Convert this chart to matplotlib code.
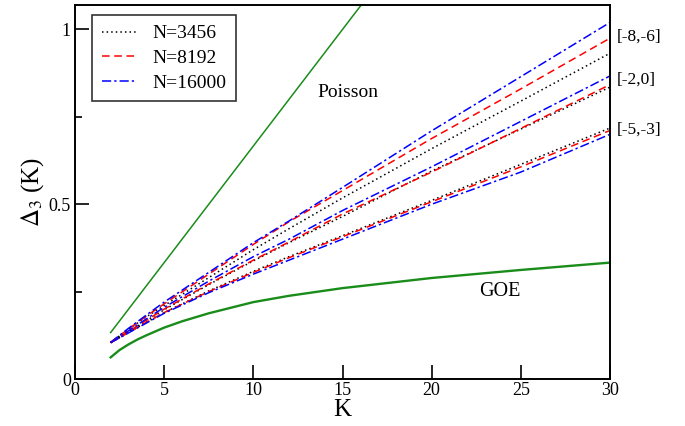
import numpy as np
import matplotlib
matplotlib.use("Agg")
import matplotlib.pyplot as plt
from matplotlib.ticker import MultipleLocator

plt.rcParams['font.family'] = ['Liberation Serif', 'DejaVu Serif']
plt.rcParams['mathtext.fontset'] = 'stix'

# values
K = [2, 3, 4, 5, 7.5, 10, 12, 15, 20, 25, 30]

# window [-8,-6]
w86_3456 = [0.105, 0.142, 0.178, 0.210, 0.290, 0.370, 0.430, 0.518, 0.659, 0.795, 0.932]
w86_8192 = [0.105, 0.143, 0.180, 0.215, 0.300, 0.385, 0.450, 0.539, 0.688, 0.830, 0.975]
w86_16000 = [0.105, 0.145, 0.183, 0.220, 0.305, 0.390, 0.452, 0.548, 0.710, 0.865, 1.020]

# window [-2,0]
w20_3456 = [0.104, 0.135, 0.167, 0.198, 0.270, 0.338, 0.390, 0.465, 0.595, 0.715, 0.835]
w20_8192 = [0.104, 0.136, 0.168, 0.200, 0.272, 0.340, 0.392, 0.472, 0.592, 0.717, 0.842]
w20_16000 = [0.104, 0.138, 0.172, 0.205, 0.280, 0.350, 0.400, 0.482, 0.607, 0.737, 0.867]

# window [-5,-3]
w53_3456 = [0.104, 0.133, 0.162, 0.190, 0.252, 0.308, 0.350, 0.410, 0.511, 0.614, 0.718]
w53_8192 = [0.104, 0.133, 0.162, 0.190, 0.250, 0.305, 0.347, 0.407, 0.507, 0.607, 0.711]
w53_16000 = [0.104, 0.132, 0.160, 0.188, 0.247, 0.300, 0.340, 0.400, 0.500, 0.592, 0.700]

K_goe = [2, 2.5, 3, 3.5, 4, 5, 6, 7.5, 10, 12, 15, 20, 25, 30]
goe = [0.062, 0.083, 0.099, 0.113, 0.125, 0.147, 0.165, 0.188, 0.220, 0.238, 0.260, 0.289, 0.312, 0.333]
K_poisson = [2, 16.5]
poisson = [0.133, 1.100]

window_labels = ['[-8,-6]', '[-2,0]', '[-5,-3]']
window_label_y = [0.98, 0.857, 0.714]

green = '#1a8c1a'
st_3456 = dict(color='black', linestyle=(0, (1, 2)), linewidth=1.1)
st_8192 = dict(color='red', linestyle=(0, (5, 3)), linewidth=1.1)
st_16000 = dict(color='blue', linestyle=(0, (6, 2, 1.5, 2)), linewidth=1.1)

fig = plt.figure(figsize=(6.85, 4.26), dpi=100)
ax = fig.add_axes([0.1095, 0.1103, 0.781, 0.878])

ax.plot(K_poisson, poisson, color=green, linewidth=1.1)
ax.plot(K_goe, goe, color=green, linewidth=1.7)

ax.plot(K, w86_3456, label='N=3456', **st_3456)
ax.plot(K, w86_8192, label='N=8192', **st_8192)
ax.plot(K, w86_16000, label='N=16000', **st_16000)
for a, b, c in [(w20_3456, w20_8192, w20_16000), (w53_3456, w53_8192, w53_16000)]:
    ax.plot(K, a, **st_3456)
    ax.plot(K, b, **st_8192)
    ax.plot(K, c, **st_16000)

for lab, yy in zip(window_labels, window_label_y):
    ax.text(30.4, yy, lab, fontsize=12.5, va='center', ha='left', clip_on=False)

ax.text(13.6, 0.82, 'Poisson', fontsize=14, va='center', ha='left')
ax.text(22.65, 0.25, 'GOE', fontsize=14.5, va='center', ha='left')

ax.set_xlim(0, 30)
ax.set_ylim(0, 1.07)
ax.xaxis.set_major_locator(MultipleLocator(5))
ax.yaxis.set_major_locator(MultipleLocator(0.5))
ax.yaxis.set_minor_locator(MultipleLocator(0.25))
ax.yaxis.set_major_formatter(plt.FuncFormatter(lambda v, p: '%g' % v))
ax.tick_params(which='both', direction='in', top=False, right=False, labelsize=13, width=1.2)
ax.tick_params(which='major', length=10)
ax.tick_params(which='minor', length=5)
ax.tick_params(axis='x', pad=2)
ax.tick_params(axis='y', pad=3)
for s in ax.spines.values():
    s.set_linewidth(1.4)

ax.set_xlabel('K', fontsize=18, labelpad=0)
ax.set_ylabel(r'$\Delta_3$ (K)', fontsize=18, labelpad=2)

leg = ax.legend(loc='upper left', fontsize=14, frameon=True, fancybox=False,
                edgecolor='black', handlelength=1.75, handletextpad=0.85,
                borderpad=0.5, labelspacing=0.36, borderaxespad=0,
                bbox_to_anchor=(0.032, 0.973))
leg.get_frame().set_linewidth(1.2)

fig.savefig('out.png', dpi=100)
